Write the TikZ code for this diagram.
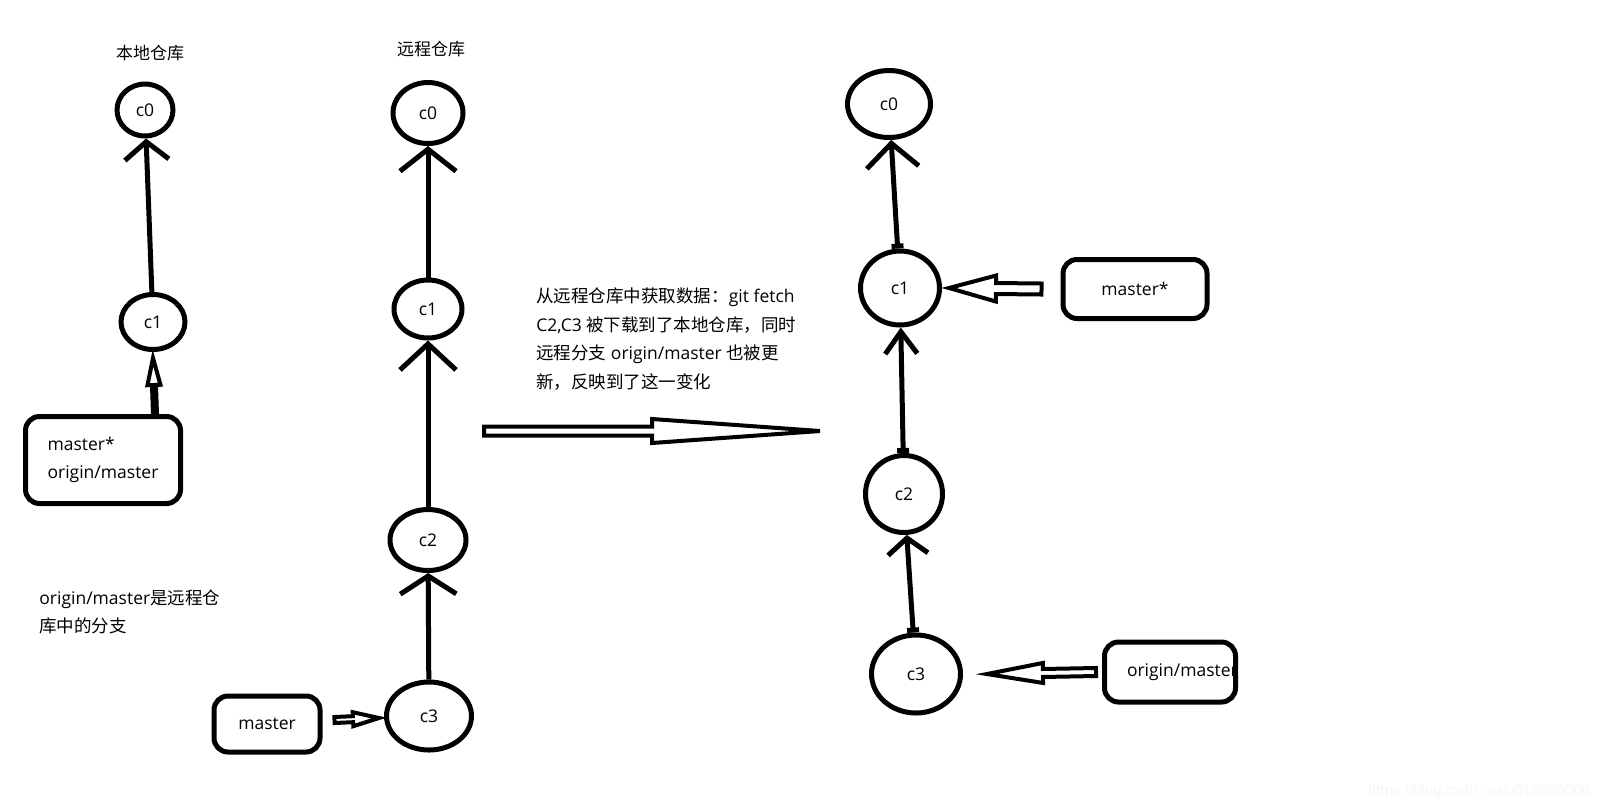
\documentclass[tikz,border=0pt]{standalone}
\usepackage{fontspec}
\setmainfont{Open Sans}
\newfontfamily\cjk{Noto Sans CJK SC}
\newfontfamily\wmfont{Liberation Sans}
\newcommand{\zh}[1]{{\cjk #1}}
\usetikzlibrary{arrows.meta,shapes.geometric,calc}

% hollow block arrow: [opts]{from}{to}{shaft half}{head half}{head length}
\newcommand{\fatarrow}[6][]{%
  \coordinate (fa-s) at (#2);
  \coordinate (fa-t) at (#3);
  \coordinate (fa-b) at ($(fa-t)!#6!(fa-s)$);
  \draw[fat,#1] ($(fa-s)!#4!90:(fa-t)$) -- ($(fa-b)!#4!-90:(fa-s)$)
    -- ($(fa-b)!#5!-90:(fa-s)$) -- (fa-t) -- ($(fa-b)!#5!90:(fa-s)$)
    -- ($(fa-b)!#4!90:(fa-s)$) -- ($(fa-s)!#4!-90:(fa-t)$) -- cycle;
}

\begin{document}
\begin{tikzpicture}[
  x=0.5pt, y=-0.5pt,
  font=\fontsize{8.75}{14.3}\selectfont,
  commit/.style={draw, ellipse, line width=2.5pt, inner sep=0pt},
  branch/.style={draw, rounded corners=7pt, line width=2.5pt, align=left, inner sep=0pt},
  link/.style={line width=2.5pt, -{Straight Barb[length=11pt,width=28pt]}},
  fat/.style={line width=2pt},
  note/.style={align=left, inner sep=0pt},
  title/.style={font=\cjk\fontsize{8.5}{10}\selectfont}
]
\useasboundingbox (0,0) rectangle (1604,810);

% local repository
\node[title] (tlocal) at (150,53) {本地仓库};
\node[commit, minimum width=28pt, minimum height=26pt] (lc0) at (145,110) {c0};
\node[commit, minimum width=32pt, minimum height=27.5pt] (lc1) at (153,322) {c1};
\node[branch, minimum width=77.5pt, minimum height=43.5pt] (lbox) at (103,460) {master*\\origin/master};
\node[note, anchor=west] (lnote) at (39,612) {origin/master\zh{是远程仓}\\\zh{库中的分支}};

% remote repository
\node[title] (tremote) at (431,49) {远程仓库};
\node[commit, minimum width=35pt, minimum height=30.5pt] (rc0) at (428,113) {c0};
\node[commit, minimum width=34pt, minimum height=29pt] (rc1) at (428,309) {c1};
\node[commit, minimum width=38pt, minimum height=30.5pt] (rc2) at (428,540) {c2};
\node[commit, minimum width=42.5pt, minimum height=34pt] (rc3) at (429,716) {c3};
\node[branch, minimum width=53pt, minimum height=28pt] (mbox) at (267,724) {master};

% after git fetch
\node[note, anchor=west] (fetchnote) at (536,339) {\zh{从远程仓库中获取数据：}git fetch\\C2,C3 \zh{被下载到了本地仓库，同时}\\\zh{远程分支} origin/master \zh{也被更}\\\zh{新，反映到了这一变化}};
\node[commit, minimum width=41.5pt, minimum height=33.5pt] (fc0) at (889,104) {c0};
\node[commit, minimum width=39.5pt, minimum height=37pt] (fc1) at (900,288) {c1};
\node[commit, minimum width=38.5pt, minimum height=38.5pt] (fc2) at (904,494) {c2};
\node[commit, minimum width=44.5pt, minimum height=39pt] (fc3) at (916,674) {c3};
\node[branch, minimum width=72pt, minimum height=29.5pt] (fmaster) at (1135,289) {master*};
\node[branch, inner xsep=11.25pt, minimum height=30pt] (forigin) at (1170,672) {\makebox[43pt][l]{origin/master}};

\node[anchor=east, text=gray!7, font=\wmfont\fontsize{7.5}{9}\selectfont] (wm) at (1597,792) {https://blog.csdn.net/u013855006};

\draw[link, -{Straight Barb[length=9pt,width=22pt]}] (lc1) -- (lc0);
\draw[link] (rc1) -- (rc0);
\draw[link, -{Straight Barb[length=13pt,width=28pt]}] (rc2) -- (rc1);
\draw[link, -{Straight Barb[length=9pt,width=28pt]}] (rc3) -- (rc2);
\draw[link, {Bar[width=6pt]}-{Straight Barb[length=12pt,width=26pt]}] (fc1) -- (fc0);
\draw[link, {Bar[width=6pt]}-{Straight Barb[length=11pt,width=16pt]}] (fc2) -- (fc1);
\draw[link, {Bar[width=6pt]}-{Straight Barb[length=8pt,width=20pt]}] (fc3) -- (fc2);

\fatarrow{[xshift=26pt]lbox.north}{[yshift=-3pt]lc1.south}{1pt}{3.25pt}{13.5pt}
\fatarrow{[xshift=6pt,yshift=2pt]mbox.east}{[xshift=-2.5pt,yshift=-1pt]rc3.west}{1.5pt}{3.5pt}{13pt}
\fatarrow{[xshift=-9.5pt]fmaster.west}{[xshift=3.5pt]fc1.east}{2.75pt}{6.5pt}{23.5pt}
\fatarrow{[xshift=-3pt]forigin.west}{[xshift=12pt]fc3.east}{2pt}{5pt}{28pt}
\coordinate (fetchfrom) at (484,431);
\coordinate (fetchto) at (820,431);
\fatarrow{fetchfrom}{fetchto}{2.25pt}{6pt}{84pt}

\end{tikzpicture}
\end{document}
